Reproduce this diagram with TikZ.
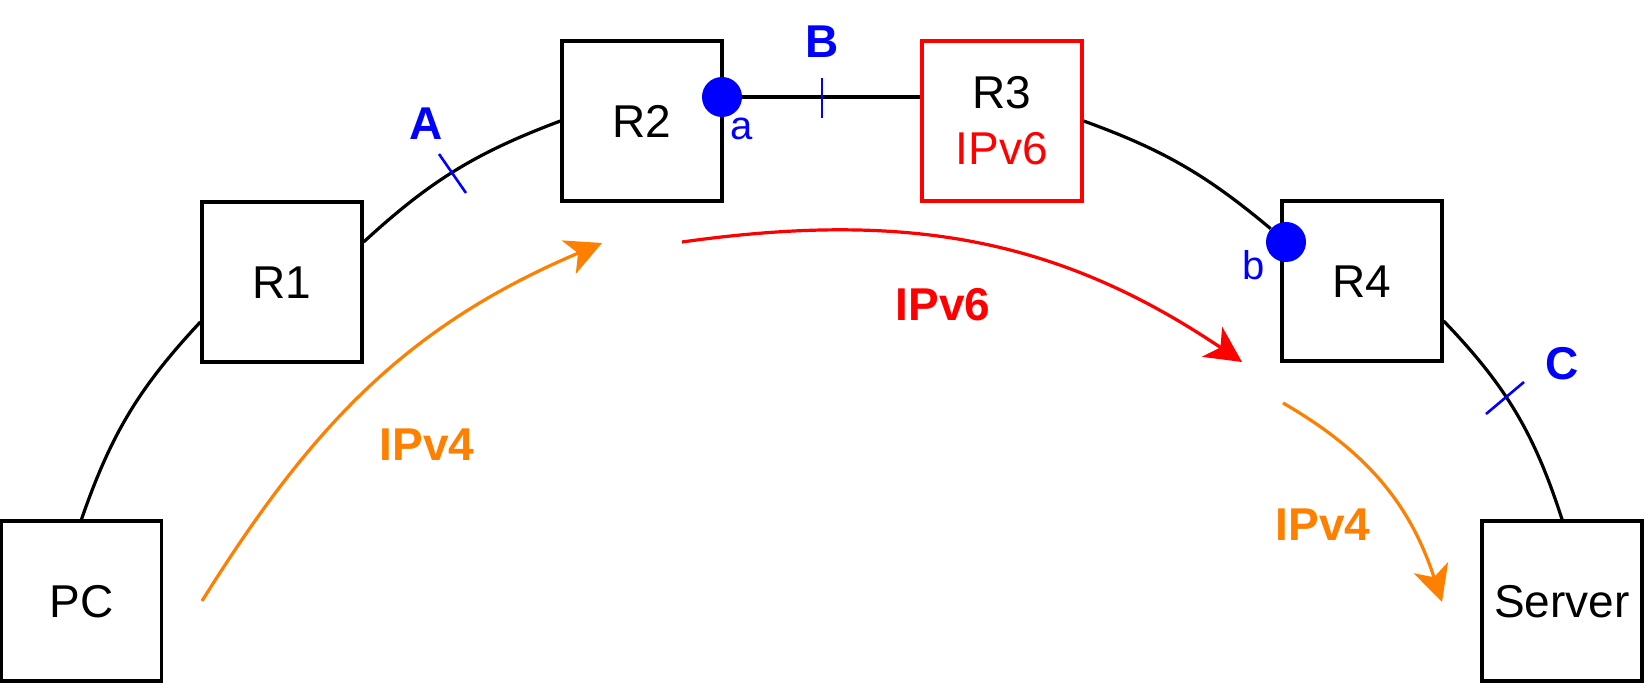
\documentclass[tikz,border=0pt]{standalone}
\usepackage{fontspec}
\setmainfont{Liberation Sans}
\usetikzlibrary{arrows.meta,calc}
\definecolor{netblue}{HTML}{0000FF}
\definecolor{netred}{HTML}{FF0000}
\definecolor{netorange}{HTML}{FF8000}
\begin{document}
\begin{tikzpicture}[x=0.5pt,y=0.5pt,
  box/.style={draw=black, line width=1.65pt, minimum width=80pt, minimum height=80pt, inner sep=0pt, fill=white, font=\fontsize{23}{28}\selectfont},
  boxtext/.style={text height=16.5pt, text depth=0pt},
  link/.style={draw=black, line width=1.6pt},
  flow/.style={line width=1.6pt, -{Stealth[length=18pt,width=18pt,inset=5pt]}},
  tick/.style={draw=netblue, line width=1.3pt},
  cut/.style={text=netblue, font=\bfseries\fontsize{23}{28}\selectfont, anchor=base, inner sep=0pt},
  port/.style={text=netblue, font=\fontsize{20}{24}\selectfont, anchor=base, inner sep=0pt},
  dot/.style={circle, fill=netblue, minimum size=20pt, inner sep=0pt},
  flowlabel/.style={font=\bfseries\fontsize{23}{28}\selectfont, anchor=base, inner sep=0pt},
]
\useasboundingbox[fill=white] (0,0) rectangle (1648,-684);
% devices
\node[box,boxtext] (PC) at (81.5,-601) {PC};
\node[box,boxtext] (R1) at (282,-282) {R1};
\node[box,boxtext] (R2) at (642,-121) {R2};
\node[box,draw=netred,align=center] (R3) at (1002,-121) {R3\\\textcolor{netred}{IPv6}};
\node[box,boxtext] (R4) at (1362,-281) {R4};
\node[box,boxtext] (Server) at (1562,-601) {Server};
% interface dots
\node[dot] (pa) at (722,-97) {};
\node[dot] (pb) at (1286,-242) {};
% links
\draw[link] (PC.north) to[bend left=12] ($(R1.west)+(0,-40)$);
\draw[link] ($(R1.east)+(0,40)$) to[bend left=11] (R2.west);
\draw[link] (pa) -- (pa -| R3.west);
\draw[link] (R3.east) to[bend left=10] (pb);
\draw[link] ($(R4.east)+(0,-40)$) to[bend left=13] (Server.north);
% ticks
\coordinate (tA1) at (439,-154); \coordinate (tA2) at (466,-193);
\coordinate (tB1) at (822,-78);  \coordinate (tB2) at (822,-118);
\coordinate (tC1) at (1524,-382); \coordinate (tC2) at (1486,-414);
\draw[tick] (tA1) -- (tA2);
\draw[tick] (tB1) -- (tB2);
\draw[tick] (tC1) -- (tC2);
% labels
\node[cut] (A) at (426,-140) {A};
\node[cut] (B) at (822.5,-58) {B};
\node[cut] (C) at (1562,-379) {C};
\node[port] (la) at (742,-139.5) {a};
\node[port] (lb) at (1254,-279.5) {b};
% flows
\coordinate (f1s) at (202,-601); \coordinate (f1e) at (602,-243);
\draw[flow, netorange] (f1s) to[out=58,in=203] (f1e);
\coordinate (f2s) at (682,-242); \coordinate (f2e) at (1242,-362);
\draw[flow, netred] (f2s) to[out=8,in=146] (f2e);
\coordinate (f3s) at (1283,-403); \coordinate (f3e) at (1442,-602);
\draw[flow, netorange] (f3s) to[out=-30,in=108] (f3e);
\node[flowlabel, text=netorange] (v4a) at (427,-460) {IPv4};
\node[flowlabel, text=netred] (v6) at (943,-320) {IPv6};
\node[flowlabel, text=netorange] (v4b) at (1323,-540) {IPv4};
\end{tikzpicture}
\end{document}
